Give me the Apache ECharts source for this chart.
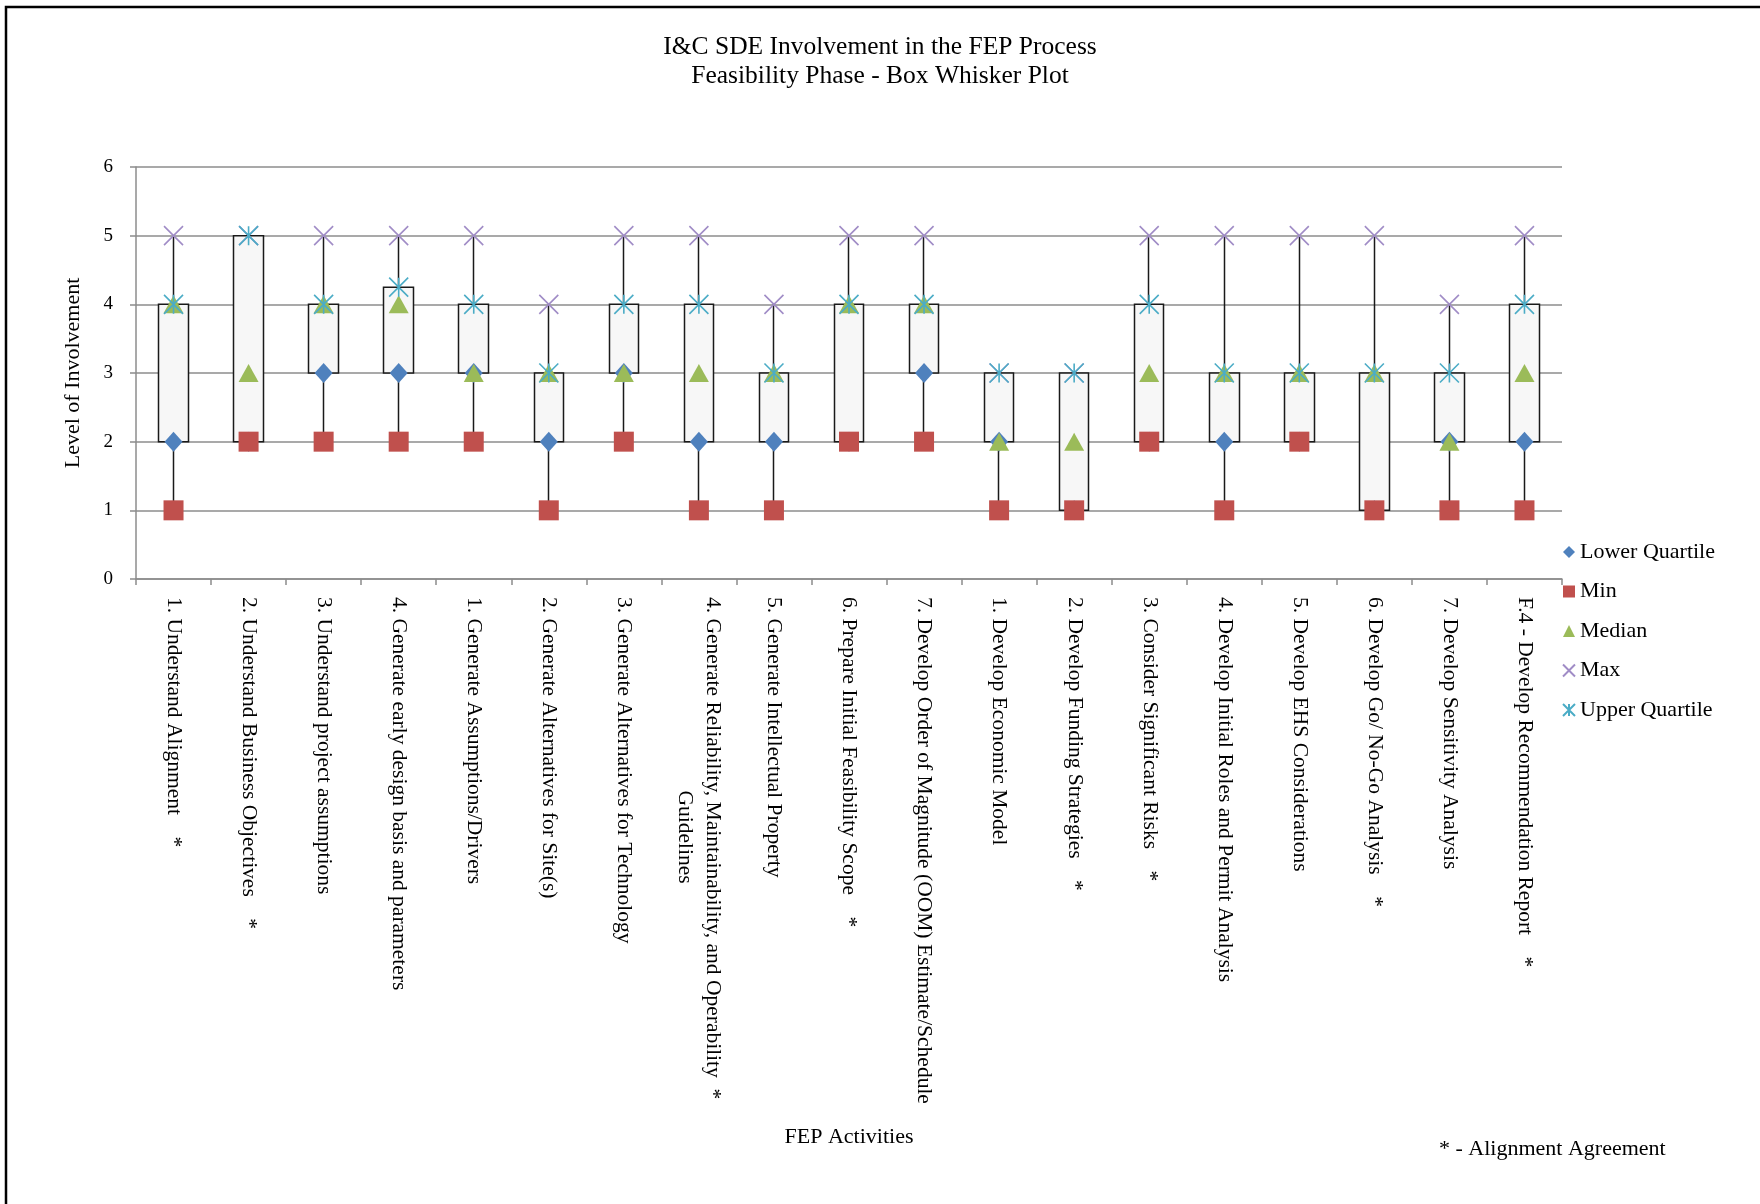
<!DOCTYPE html>
<html>
<head>
<meta charset="utf-8">
<title>I&amp;C SDE Involvement in the FEP Process</title>
<script src="https://cdn.jsdelivr.net/npm/echarts@6/dist/echarts.min.js"></script>
<style>
  html, body { margin: 0; padding: 0; background: #ffffff; }
  #chart { width: 1760px; height: 1204px; }
</style>
</head>
<body>
<div id="chart"></div>
<script>
// FEP activities (feasibility phase); "\n" marks where a long label wraps
const activities = [
  '1. Understand Alignment',
  '2. Understand Business Objectives',
  '3. Understand project assumptions',
  '4. Generate early design basis and parameters',
  '1. Generate Assumptions/Drivers',
  '2. Generate Alternatives for Site(s)',
  '3. Generate Alternatives for Technology',
  '4. Generate Reliability, Maintainability, and Operability\nGuidelines',
  '5. Generate Intellectual Property',
  '6. Prepare Initial Feasibility Scope',
  '7. Develop Order of Magnitude (OOM) Estimate/Schedule',
  '1. Develop Economic Model',
  '2. Develop Funding Strategies',
  '3. Consider Significant Risks',
  '4. Develop Initial Roles and Permit Analysis',
  '5. Develop EHS Considerations',
  '6. Develop Go/ No-Go Analysis',
  '7. Develop Sensitivity Analysis',
  'F.4 - Develop Recommendation Report'
];

// activities flagged with "*" (alignment agreement)
const alignmentAgreement = [
  true, true, false, false, false, false, false, true, false, true,
  false, false, true, true, false, false, true, false, true
];

// five-number summary of the level of involvement per activity
const minValues      = [1, 2, 2, 2, 2, 1, 2, 1, 1, 2, 2, 1, 1, 2, 1, 2, 1, 1, 1];
const lowerQuartile  = [2, 2, 3, 3, 3, 2, 3, 2, 2, 2, 3, 2, 1, 2, 2, 2, 1, 2, 2];
const medianValues   = [4, 3, 4, 4, 3, 3, 3, 3, 3, 4, 4, 2, 2, 3, 3, 3, 3, 2, 3];
const upperQuartile  = [4, 5, 4, 4.25, 4, 3, 4, 4, 3, 4, 4, 3, 3, 4, 3, 3, 3, 3, 4];
const maxValues      = [5, 5, 5, 5, 5, 4, 5, 5, 4, 5, 5, 3, 3, 5, 5, 5, 5, 4, 5];

// level-of-involvement scale
const levelMin = 0;
const levelMax = 6;
const levelStep = 1;

const SERIF = '"Liberation Serif", "Times New Roman", "DejaVu Serif", serif';
const LABEL_SIZE = 21.5;

// measure text so a wrapped second line can be centred under the first
const measureCtx = document.createElement('canvas').getContext('2d');
measureCtx.font = LABEL_SIZE + 'px ' + SERIF;

function activityLabel(name, idx) {
  const lines = name.split('\n');
  const firstWidth = measureCtx.measureText(lines[0]).width;
  const spaceWidth = measureCtx.measureText(' ').width;
  for (let i = 1; i < lines.length; i++) {
    const w = measureCtx.measureText(lines[i]).width;
    const pad = Math.max(0, Math.round((firstWidth - w) / 2 / spaceWidth));
    lines[i] = ' '.repeat(pad) + lines[i];
  }
  if (alignmentAgreement[idx]) {
    lines[0] += lines.length > 1 ? '  *' : '    *';
  }
  return lines.join('\n');
}

// box from lower to upper quartile, whiskers out to min and max
const boxData = activities.map((_, i) => [lowerQuartile[i], upperQuartile[i], minValues[i], maxValues[i]]);

const chart = echarts.init(document.getElementById('chart'), null, { renderer: 'canvas' });

const markerSeries = (name, values, symbol, size, style, z) => ({
  name: name,
  type: 'scatter',
  data: values,
  symbol: symbol,
  symbolSize: size,
  itemStyle: Object.assign({ opacity: 1 }, style),
  z: z,
  silent: true
});

chart.setOption({
  backgroundColor: '#ffffff',
  animation: false,
  textStyle: { fontFamily: SERIF, color: '#000000' },
  title: {
    text: 'I&C SDE Involvement in the FEP Process\nFeasibility Phase - Box Whisker Plot',
    left: 'center',
    top: 33,
    padding: 0,
    textStyle: {
      fontFamily: SERIF,
      fontSize: 25.5,
      fontWeight: 'normal',
      lineHeight: 29,
      color: '#000000'
    }
  },
  legend: {
    orient: 'vertical',
    left: 1562,
    top: 541,
    padding: 0,
    itemWidth: 12,
    itemHeight: 12,
    itemGap: 17.5,
    selectedMode: false,
    data: ['Lower Quartile', 'Min', 'Median', 'Max', 'Upper Quartile'],
    textStyle: { fontFamily: SERIF, fontSize: 22, color: '#000000', padding: [0, 0, 0, 0] }
  },
  grid: {
    left: 136,
    right: 198,
    top: 167,
    bottom: 625,
    containLabel: false
  },
  xAxis: {
    type: 'category',
    data: activities,
    boundaryGap: true,
    name: 'FEP Activities',
    nameLocation: 'middle',
    nameGap: 547,
    nameMoveOverlap: false,
    nameTextStyle: { fontFamily: SERIF, fontSize: 22, color: '#000000' },
    axisLine: { show: true, lineStyle: { color: '#8C8C8C', width: 1.5 } },
    axisTick: { show: true, length: 6, alignWithLabel: false, interval: 0, lineStyle: { color: '#8C8C8C', width: 1.5 } },
    axisLabel: {
      interval: 0,
      rotate: -90,
      margin: 18,
      fontFamily: SERIF,
      fontSize: LABEL_SIZE,
      lineHeight: 28,
      color: '#000000',
      formatter: activityLabel
    },
    splitLine: { show: false }
  },
  yAxis: {
    type: 'value',
    min: levelMin,
    max: levelMax,
    interval: levelStep,
    name: 'Level of Involvement',
    nameLocation: 'middle',
    nameGap: 52,
    nameMoveOverlap: false,
    nameTextStyle: { fontFamily: SERIF, fontSize: 22, color: '#000000' },
    axisLine: { show: true, lineStyle: { color: '#8C8C8C', width: 1.5 } },
    axisTick: { show: true, length: 6, lineStyle: { color: '#8C8C8C', width: 1.5 } },
    axisLabel: { margin: 23, fontFamily: SERIF, fontSize: 19, color: '#000000' },
    splitLine: { show: true, lineStyle: { color: '#8C8C8C', width: 1.5 } }
  },
  graphic: [
    {
      type: 'rect',
      shape: { x: 6, y: 7, width: 2400, height: 2400 },
      style: { fill: 'none', stroke: '#000000', lineWidth: 2.5 },
      silent: true,
      z: 100
    },
    {
      type: 'text',
      left: 1439,
      top: 1138,
      style: { text: '* - Alignment Agreement', font: '22px ' + SERIF, fill: '#000000' },
      silent: true
    }
  ],
  series: [
    {
      name: 'Quartile Box',
      type: 'candlestick',
      data: boxData,
      barWidth: 30,
      silent: true,
      z: 2,
      itemStyle: {
        color: '#F7F7F7',
        color0: '#F7F7F7',
        borderColor: '#1A1A1A',
        borderColor0: '#1A1A1A',
        borderWidth: 1.5
      }
    },
    markerSeries('Lower Quartile', lowerQuartile, 'diamond', [18, 20], { color: '#4F81BD' }, 3),
    markerSeries('Min', minValues, 'rect', 20, { color: '#C0504D' }, 4),
    markerSeries('Median', medianValues, 'triangle', [20, 18], { color: '#9BBB59' }, 5),
    markerSeries('Max', maxValues, 'path://M0,0L10,10M10,0L0,10', 19,
      { color: 'transparent', borderColor: '#A08CC6', borderWidth: 1.6 }, 6),
    markerSeries('Upper Quartile', upperQuartile, 'path://M0,0L10,10M10,0L0,10M5,0L5,10', 19,
      { color: 'transparent', borderColor: '#4BACC6', borderWidth: 1.6 }, 7)
  ]
});
</script>
</body>
</html>
